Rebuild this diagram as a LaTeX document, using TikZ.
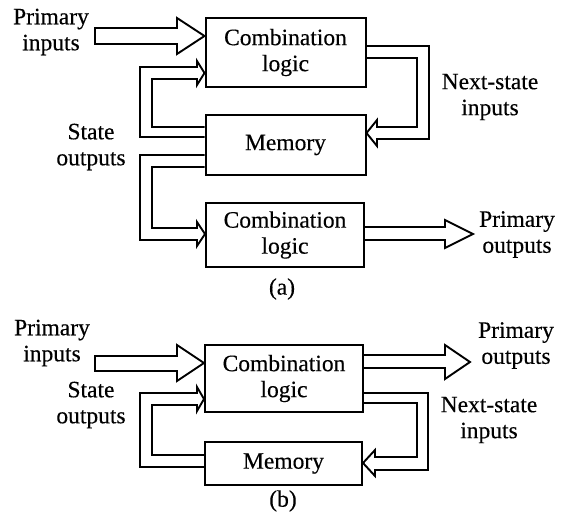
\documentclass[tikz,border=0pt]{standalone}
\usepackage{fontspec}
\setmainfont{Liberation Serif}
\newfontfamily\labelfont{Liberation Serif}[FakeBold=0.3]
\begin{document}
\begin{tikzpicture}[x=1pt,y=-1pt,
  every node/.style={font=\labelfont\fontsize{23.5}{26}\selectfont, inner sep=0pt, align=center},
  block/.style={draw, line width=2pt, minimum width=#1},
  block/.default=160pt,
  hollow/.style={draw, line width=1.9pt, line join=miter}]
\useasboundingbox (0,0) rectangle (564,522);

% ---------- (a) ----------
\node[block, minimum height=69pt] (cla) at (285.5,52.5) {Combination\\logic};
\node[block, minimum height=60pt] (mema) at (285.5,145) {Memory};
\node[block=158pt, minimum height=64pt] (clo) at (285,235) {Combination\\logic};

\node (pia) at (51,32) {Primary\\inputs};
\node (soa) at (91,147) {State\\outputs};
\node (nsa) at (490,97) {Next-state\\inputs};
\node (poa) at (517,234.5) {Primary\\outputs};
\node (capa) at (282,289) {(a)};

% primary inputs
\draw[hollow] (95,28) -- (177,28) -- (177,18) -- (cla.west |- 0,36)
  -- (177,54) -- (177,44) -- (95,44) -- cycle;
% state feedback into the upper logic
\draw[hollow] (mema.west |- 0,137) -- (140,137) -- (140,67) -- (197,67) -- (197,61)
  -- (cla.west |- 0,73) -- (197,85) -- (197,79) -- (152,79) -- (152,127)
  -- (mema.west |- 0,127);
% state outputs into the lower logic
\draw[hollow] (mema.west |- 0,155) -- (140,155) -- (140,240) -- (197,240) -- (197,246)
  -- (clo.west |- 0,234) -- (197,222) -- (197,228) -- (152,228) -- (152,167)
  -- (mema.west |- 0,167);
% next-state inputs
\draw[hollow] (cla.east |- 0,46) -- (429,46) -- (429,139) -- (377,139) -- (377,146)
  -- (mema.east |- 0,133) -- (377,120) -- (377,127) -- (417,127) -- (417,58)
  -- (cla.east |- 0,58);
% primary outputs
\draw[hollow] (clo.east |- 0,227) -- (445,227) -- (445,220) -- (473,234)
  -- (445,248) -- (445,240) -- (clo.east |- 0,240);

% ---------- (b) ----------
\node[block=158pt, minimum height=67pt] (clb) at (284,378.5) {Combination\\logic};
\node[block=157pt, minimum height=43pt] (memb) at (283.5,463.5) {Memory};

\node (pib) at (52,343) {Primary\\inputs};
\node (sob) at (91,405) {State\\outputs};
\node (pob) at (516,345.5) {Primary\\outputs};
\node (nsb) at (489,420) {Next-state\\inputs};
\node (capb) at (283,501) {(b)};

% primary inputs
\draw[hollow] (95,356) -- (177,356) -- (177,345) -- (clb.west |- 0,363)
  -- (177,381) -- (177,371) -- (95,371) -- cycle;
% state feedback
\draw[hollow] (memb.west |- 0,467) -- (140,467) -- (140,393) -- (197,393) -- (197,387)
  -- (clb.west |- 0,399) -- (197,411) -- (197,405) -- (152,405) -- (152,455)
  -- (memb.west |- 0,455);
% primary outputs
\draw[hollow] (clb.east |- 0,355) -- (445,355) -- (445,345) -- (470,362)
  -- (445,379) -- (445,368) -- (clb.east |- 0,368);
% next-state inputs
\draw[hollow] (clb.east |- 0,393) -- (428,393) -- (428,470) -- (375,470) -- (375,476)
  -- (memb.east |- 0,463) -- (375,450) -- (375,457) -- (417,457) -- (417,403)
  -- (clb.east |- 0,403);
\end{tikzpicture}
\end{document}
